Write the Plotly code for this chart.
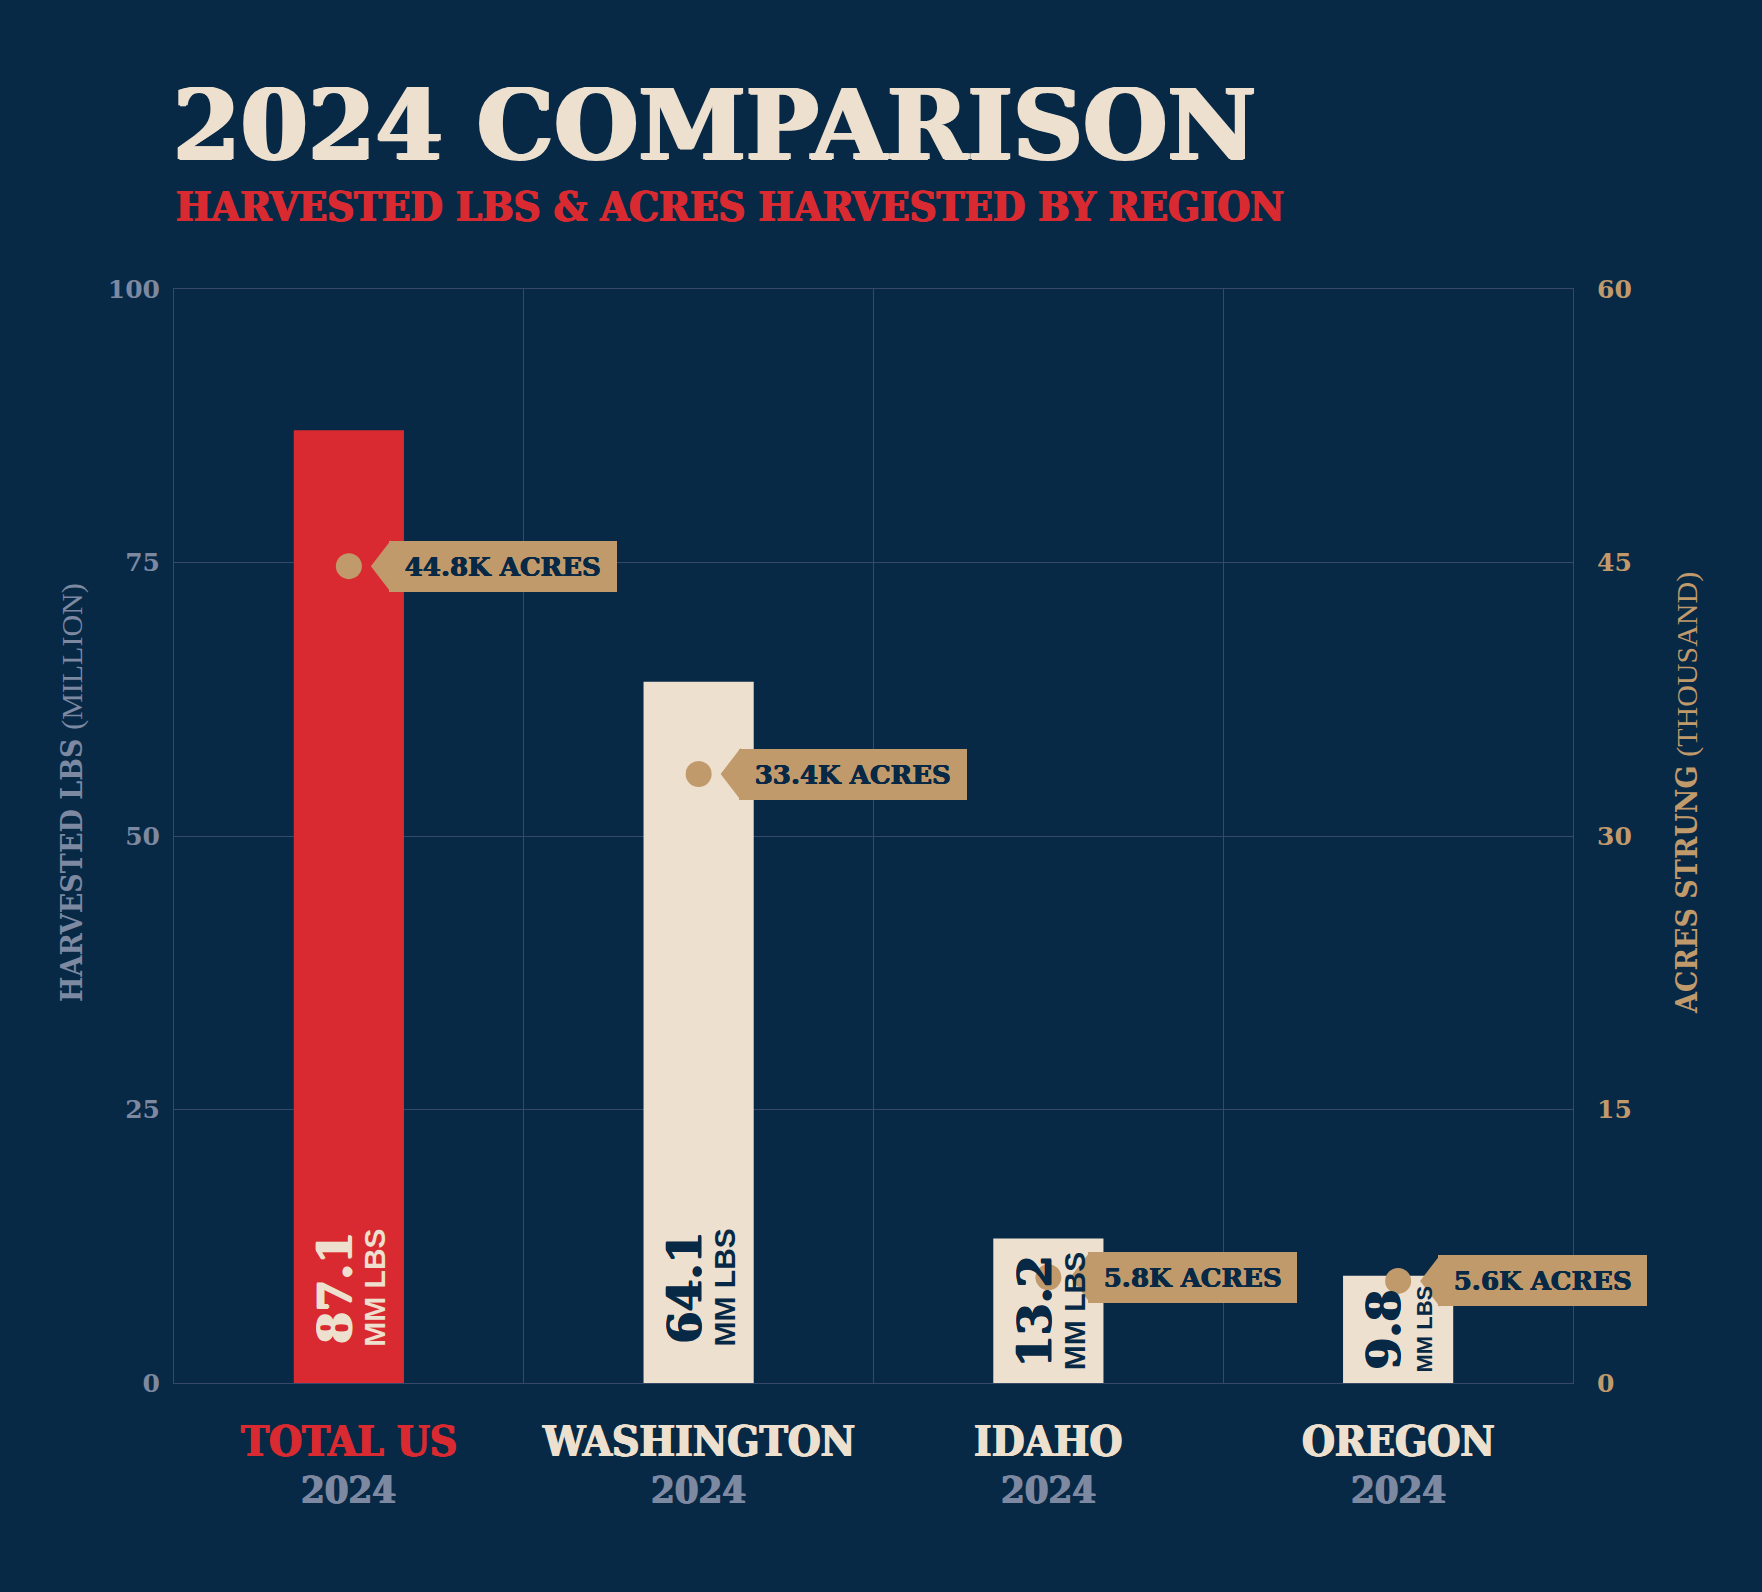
import plotly.graph_objects as go

# ---------------- data ----------------
regions = ["TOTAL US", "WASHINGTON", "IDAHO", "OREGON"]
years = ["2024", "2024", "2024", "2024"]
harvested_mm_lbs = [87.1, 64.1, 13.2, 9.8]
acres_k = [44.8, 33.4, 5.8, 5.6]
left_ticks = [0, 25, 50, 75, 100]
right_ticks = [0, 15, 30, 45, 60]

# ---------------- styles ----------------
NAVY = "#072946"
CREAM = "#eee0cf"
RED = "#d92a31"
TAN = "#c19a6c"
GRAY = "#7d88a1"
GRID = "#36496a"
SLAB = "DejaVu Serif"
COND = "DejaVu Serif Condensed, DejaVu Serif"
SANSN = "Liberation Sans Narrow, Liberation Sans"


def heavy(color, d=1.2):
    return f"{d}px 0 0 {color}, -{d}px 0 0 {color}, 0 {d * 0.5}px 0 {color}"


# approximate em widths of DejaVu Serif Bold glyphs (used to size the tag boxes)
EM = {"0": .696, "1": .696, "2": .696, "3": .696, "4": .696, "5": .696, "6": .696,
      "7": .696, "8": .696, "9": .696, ".": .38, "K": .82, " ": .348,
      "A": .776, "C": .734, "R": .77, "E": .733, "S": .72}

x = list(range(len(regions)))
bar_colors = [RED if i == 0 else CREAM for i in x]

fig = go.Figure()
fig.add_bar(x=x, y=harvested_mm_lbs, marker_color=bar_colors, width=0.315,
            marker_line_width=0, hoverinfo="skip")
fig.add_scatter(x=x, y=acres_k, yaxis="y2", mode="markers",
                marker=dict(size=26, color=TAN), cliponaxis=False, hoverinfo="skip")

annotations = []
shapes = []

# title + subtitle
annotations.append(dict(text="<b>2024 COMPARISON</b>", xref="paper", yref="paper",
                        x=-0.002, y=1.0 + (289 - 125) / 1094, height=76,
                        xanchor="left", yanchor="middle", showarrow=False,
                        font=dict(family=SLAB, size=97, color=CREAM, shadow=heavy(CREAM, 1.8))))
annotations.append(dict(text="<b>HARVESTED LBS &amp; ACRES HARVESTED BY REGION</b>", xref="paper", yref="paper",
                        x=0.0, y=1.0 + (289 - 206) / 1094, height=36,
                        xanchor="left", yanchor="middle", showarrow=False,
                        font=dict(family=COND, size=41.5, color=RED, shadow=heavy(RED, 0.9))))

# axis titles
annotations.append(dict(text="<b>HARVESTED LBS</b> <span style='font-family:Liberation Sans Narrow;'>(MILLION)</span>",
                        xref="paper", yref="paper", x=(71 - 174) / 1399, y=(1383 - 793) / 1094,
                        textangle=-90, xanchor="center", yanchor="middle", showarrow=False,
                        font=dict(family=COND, size=30, color=GRAY)))
annotations.append(dict(text="<b>ACRES STRUNG</b> <span style='font-family:Liberation Sans Narrow;'>(THOUSAND)</span>",
                        xref="paper", yref="paper", x=(1686 - 174) / 1399, y=(1383 - 793) / 1094,
                        textangle=-90, xanchor="center", yanchor="middle", showarrow=False,
                        font=dict(family=COND, size=30, color=TAN)))

# category labels
for i, (r, yr) in enumerate(zip(regions, years)):
    c = RED if i == 0 else CREAM
    annotations.append(dict(text=f"<b>{r}</b>", xref="x", yref="paper", x=i, y=(1383 - 1441) / 1094,
                            xanchor="center", yanchor="middle", showarrow=False,
                            font=dict(family=COND, size=42, color=c, shadow=heavy(c, 0.8))))
    annotations.append(dict(text=f"<b>{yr}</b>", xref="x", yref="paper", x=i, y=(1383 - 1489) / 1094,
                            xanchor="center", yanchor="middle", showarrow=False,
                            font=dict(family=COND, size=38, color=GRAY, shadow=heavy(GRAY, 0.8))))

# bar value labels
for i, v in enumerate(harvested_mm_lbs):
    ly = min(v / 2, 8.7)
    col = CREAM if i == 0 else NAVY
    annotations.append(dict(text=f"<b>{v}</b>", xref="x", yref="y", x=i, y=ly, xshift=-14,
                            textangle=-90, xanchor="center", yanchor="middle", showarrow=False,
                            font=dict(family=SLAB, size=46, color=col, shadow=heavy(col, 1.0))))
    annotations.append(dict(text="<b>MM LBS</b>", xref="x", yref="y", x=i, y=ly, xshift=26,
                            textangle=-90, xanchor="center", yanchor="middle", showarrow=False,
                            font=dict(family=SANSN, size=30 if v > 12 else 22, color=col)))

# acres tags
for i, a in enumerate(acres_k):
    label = f"{a}K ACRES"
    tw = sum(EM.get(ch, 0.7) for ch in label) * 26
    shapes.append(dict(type="path", xref="x", yref="y2", xsizemode="pixel", ysizemode="pixel",
                       xanchor=i, yanchor=a, path="M 22 0 L 42 26 L 42 -26 Z",
                       fillcolor=TAN, line=dict(width=0), layer="above"))
    annotations.append(dict(text=f"<b>{label}</b>", xref="x", yref="y2", x=i, y=a, xshift=40,
                            xanchor="left", yanchor="middle", showarrow=False,
                            bgcolor=TAN, borderpad=10, borderwidth=0, height=31, width=tw + 16,
                            font=dict(family=SLAB, size=26, color=NAVY, shadow=heavy(NAVY, 0.5))))

fig.update_layout(
    width=1762, height=1592,
    margin=dict(l=174, r=189, t=289, b=209, autoexpand=False),
    paper_bgcolor=NAVY, plot_bgcolor=NAVY, showlegend=False,
    xaxis=dict(range=[-0.5, 3.5], tickvals=x, showticklabels=False, ticks="",
               showgrid=False, zeroline=False, showline=True, linecolor=GRID, linewidth=1, mirror=True,
               minor=dict(tickvals=[0.5, 1.5, 2.5], showgrid=True, gridcolor=GRID, gridwidth=1, ticks="")),
    yaxis=dict(range=[0, 100], tickvals=left_ticks, showgrid=True, gridcolor=GRID, gridwidth=1,
               zeroline=False, showline=True, linecolor=GRID, linewidth=1, mirror=True, ticks="",
               ticklabelstandoff=8,
               tickfont=dict(family=SLAB, size=25, color=GRAY, weight="bold")),
    yaxis2=dict(range=[0, 60], tickvals=right_ticks, overlaying="y", side="right", showgrid=False,
                zeroline=False, ticks="", ticklabelstandoff=23,
                tickfont=dict(family=SLAB, size=25, color=TAN, weight="bold")),
    annotations=annotations, shapes=shapes,
)

fig.write_html("out.html")
